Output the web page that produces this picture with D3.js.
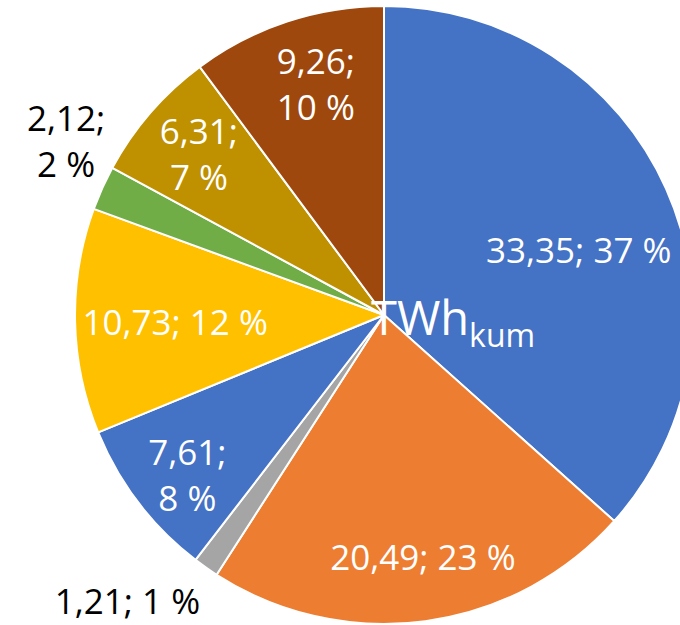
<!DOCTYPE html>
<html>
<head>
<meta charset="utf-8">
<script src="https://cdn.jsdelivr.net/npm/d3@7"></script>
<style>
  body { margin: 0; background: #fff; }
  svg { display: block; }
  text { font-family: "Open Sans", sans-serif; }
</style>
</head>
<body>
<script>
 // values in TWh, as shown in the data labels
 var values = [33.35, 20.49, 1.21, 7.61, 10.73, 2.12, 6.31, 9.26];
 var percents = [37, 23, 1, 8, 12, 2, 7, 10];
 var colors = ["#4472C4", "#ED7D31", "#A5A5A5", "#4472C4", "#FFC000", "#70AD47", "#BF9000", "#9E480E"];

 // label layout: radius from centre, angle nudge (deg), two lines or not, outside or not
 var labelRadius = [205, 246, 385, 254, 209, 362, 245, 240];
 var labelNudge = [5.9, -1.4, 6.6, -1.9, -1.1, 4.3, 0, 1.8];
 var twoLines = [false, false, false, true, false, true, true, true];
 var outside = [false, false, true, false, false, true, false, false];

 var width = 680, height = 625;
 var cx = 384, cy = 315, radius = 309;

 var svg = d3.select("body").append("svg")
   .attr("width", width)
   .attr("height", height);

 var g = svg.append("g")
   .attr("transform", "translate(" + cx + "," + cy + ")");

 var pie = d3.pie().sort(null).value(function (d) { return d; });
 var arcs = pie(values);

 var arc = d3.arc().innerRadius(0).outerRadius(radius);

 g.selectAll("path.slice")
   .data(arcs)
   .enter().append("path")
   .attr("class", "slice")
   .attr("d", arc)
   .attr("fill", function (d, i) { return colors[i]; })
   .attr("stroke", "#fff")
   .attr("stroke-width", 2)
   .attr("stroke-linejoin", "round");

 var loc = d3.formatLocale({ decimal: ",", thousands: " ", grouping: [3], currency: ["", ""] });
 var fmt = loc.format(".2f");

 var fontSize = 35, lineHeight = 46;

 arcs.forEach(function (d, i) {
   var a = (d.startAngle + d.endAngle) / 2 + labelNudge[i] * Math.PI / 180;
   var x = labelRadius[i] * Math.sin(a);
   var y = -labelRadius[i] * Math.cos(a);
   var parts = [fmt(values[i]) + ";", percents[i] + " %"];
   var t = g.append("text")
     .attr("text-anchor", "middle")
     .attr("font-size", fontSize)
     .attr("fill", outside[i] ? "#000" : "#fff");
   if (twoLines[i]) {
     t.append("tspan").attr("x", x).attr("y", y - lineHeight / 2 + 12).text(parts[0]);
     t.append("tspan").attr("x", x).attr("y", y + lineHeight / 2 + 12).text(parts[1]);
   } else {
     t.attr("x", x).attr("y", y + 12).text(parts.join(" "));
   }
 });

 // unit in the middle
 var unit = g.append("text")
   .attr("x", -13)
   .attr("y", 20)
   .attr("fill", "#fff")
   .attr("font-size", 47);
 unit.append("tspan").text("TWh");
 unit.append("tspan").attr("font-size", 32).attr("dy", 12).text("kum");
</script>
</body>
</html>
